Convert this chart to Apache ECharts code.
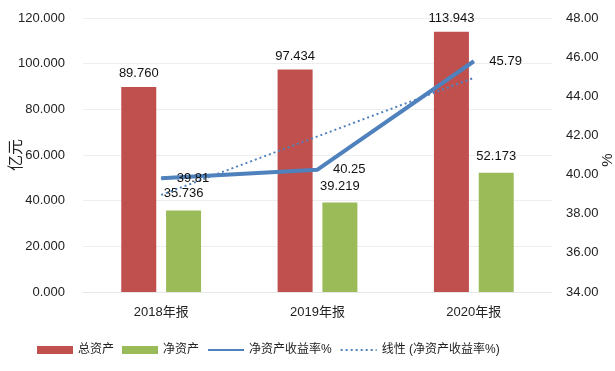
<!DOCTYPE html>
<html>
<head>
<meta charset="utf-8">
<script src="https://cdn.jsdelivr.net/npm/echarts@6/dist/echarts.min.js"></script>
<style>
  html,body{margin:0;padding:0;background:#fff;}
  #chart{width:615px;height:371px;}
</style>
</head>
<body>
<div id="chart"></div>
<script>
const categories=['2018年报','2019年报','2020年报'];
const totalAssets=[89.760,97.434,113.943];
const netAssets=[35.736,39.219,52.173];
const roe=[39.81,40.25,45.79];
const roeTrend=[38.96,41.95,44.94];

const leftTicks={min:0,max:120,interval:20};
const rightTicks={min:34,max:48,interval:2};

const textFont='"Liberation Sans","Noto Sans CJK SC",sans-serif';
const chartDom=document.getElementById('chart');
const myChart=echarts.init(chartDom);

const option={
    animation:false,
    textStyle:{fontFamily:textFont},
    grid:{
        left:83,
        right:63,
        top:18,
        bottom:79,
        containLabel:false,
        outerBoundsMode:'none',
    },
    legend:{
        left:32,
        top:339,
        itemWidth:36,
        itemHeight:8,
        itemGap:8,
        textStyle:{fontSize:12,color:'#222',fontFamily:textFont},
        data:[
            {name:'总资产',icon:'rect'},
            {name:'净资产',icon:'rect'},
            {name:'净资产收益率%',itemStyle:{opacity:0}},
            {name:'线性 (净资产收益率%)',itemStyle:{opacity:0}},
        ]
    },
    xAxis:[
        {
            type:'category',
            data:categories,
            axisLine:{show:true,lineStyle:{color:'#e8e8e8',width:1}},
            axisTick:{show:false},
            axisLabel:{fontSize:13,color:'#222',margin:14},
        }
    ],
    yAxis:[
        {
            type:'value',
            min:leftTicks.min,
            max:leftTicks.max,
            interval:leftTicks.interval,
            name:'亿元',
            nameLocation:'middle',
            nameGap:58,
            nameMoveOverlap:false,
            nameTextStyle:{fontSize:16,color:'#222'},
            axisLine:{show:false},
            axisTick:{show:false},
            splitLine:{lineStyle:{color:'#eeeeee'}},
            axisLabel:{fontSize:13,color:'#222',margin:18,formatter:v=>v.toFixed(3)},
        },
        {
            type:'value',
            min:rightTicks.min,
            max:rightTicks.max,
            interval:rightTicks.interval,
            name:'%',
            nameLocation:'middle',
            nameGap:48,
            nameMoveOverlap:false,
            nameTextStyle:{fontSize:15,color:'#222',padding:[0,10,0,0]},
            axisLine:{show:false},
            axisTick:{show:false},
            splitLine:{show:false},
            axisLabel:{fontSize:13,color:'#222',margin:14,formatter:v=>v.toFixed(2)},
        }
    ],
    series:[
        {
            name:'总资产',
            type:'bar',
            barWidth:35,
            barGap:'28%',
            itemStyle:{color:'#C0504D'},
            label:{show:true,position:'top',distance:7,fontSize:13,color:'#111',formatter:p=>p.value.toFixed(3)},
            data:totalAssets
        },
        {
            name:'净资产',
            type:'bar',
            barWidth:35,
            itemStyle:{color:'#9BBB59'},
            label:{show:true,position:'top',distance:10,fontSize:13,color:'#111',formatter:p=>p.value.toFixed(3)},
            data:netAssets
        },
        {
            name:'净资产收益率%',
            type:'line',
            yAxisIndex:1,
            symbol:'circle',
            symbolSize:1,
            z:4,
            itemStyle:{color:'#4F81BD'},
            lineStyle:{color:'#4F81BD',width:4},
            label:{show:true,position:'right',distance:15,fontSize:13,color:'#111',formatter:p=>p.value.toFixed(2)},
            data:roe
        },
        {
            name:'线性 (净资产收益率%)',
            type:'line',
            yAxisIndex:1,
            symbol:'none',
            z:3,
            itemStyle:{color:'#4F81BD'},
            lineStyle:{color:'#4F81BD',width:2,type:[2,3]},
            data:roeTrend
        }
    ]
};

myChart.setOption(option);
</script>
</body>
</html>
